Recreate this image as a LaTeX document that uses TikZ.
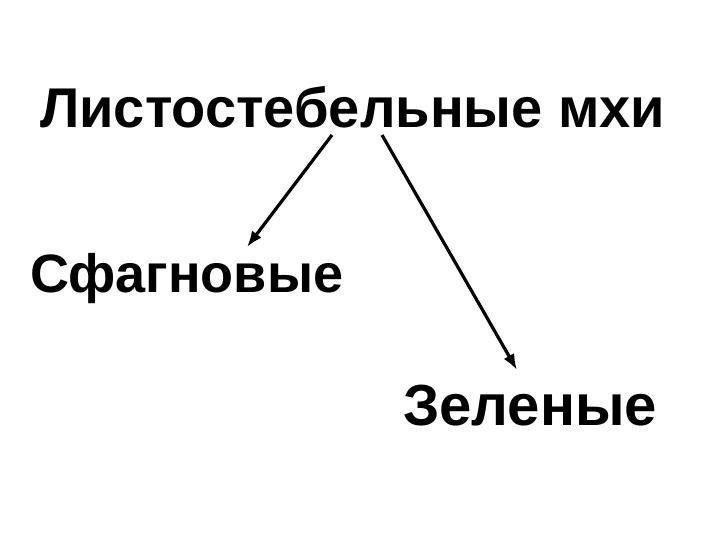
\documentclass[tikz,border=0pt]{standalone}
\usepackage{fontspec}
\setmainfont{Liberation Sans}
\usetikzlibrary{arrows.meta}
\begin{document}
\begin{tikzpicture}[x=1pt,y=1pt,
  lbl/.style={anchor=base west,inner sep=0pt,font=\bfseries},
  arr/.style={line width=3.2pt,-{Latex[length=16pt,width=12pt]}}]
\useasboundingbox[fill=white] (0,0) rectangle (720,-540);
\node[lbl,font=\bfseries\fontsize{56}{60}\selectfont] (top) at (40,-128) {Листостебельные мхи};
\node[lbl,font=\bfseries\fontsize{54}{60}\selectfont] (sf) at (30,-292) {Сфагновые};
\node[lbl,font=\bfseries\fontsize{58}{62}\selectfont] (zel) at (403,-425) {Зеленые};
\coordinate (a1) at (332,-135);
\coordinate (a2) at (382,-135);
\coordinate (t1) at (247,-247);
\coordinate (t2) at (517,-370);
\draw[arr] (a1) -- (t1);
\draw[arr] (a2) -- (t2);
\end{tikzpicture}
\end{document}
